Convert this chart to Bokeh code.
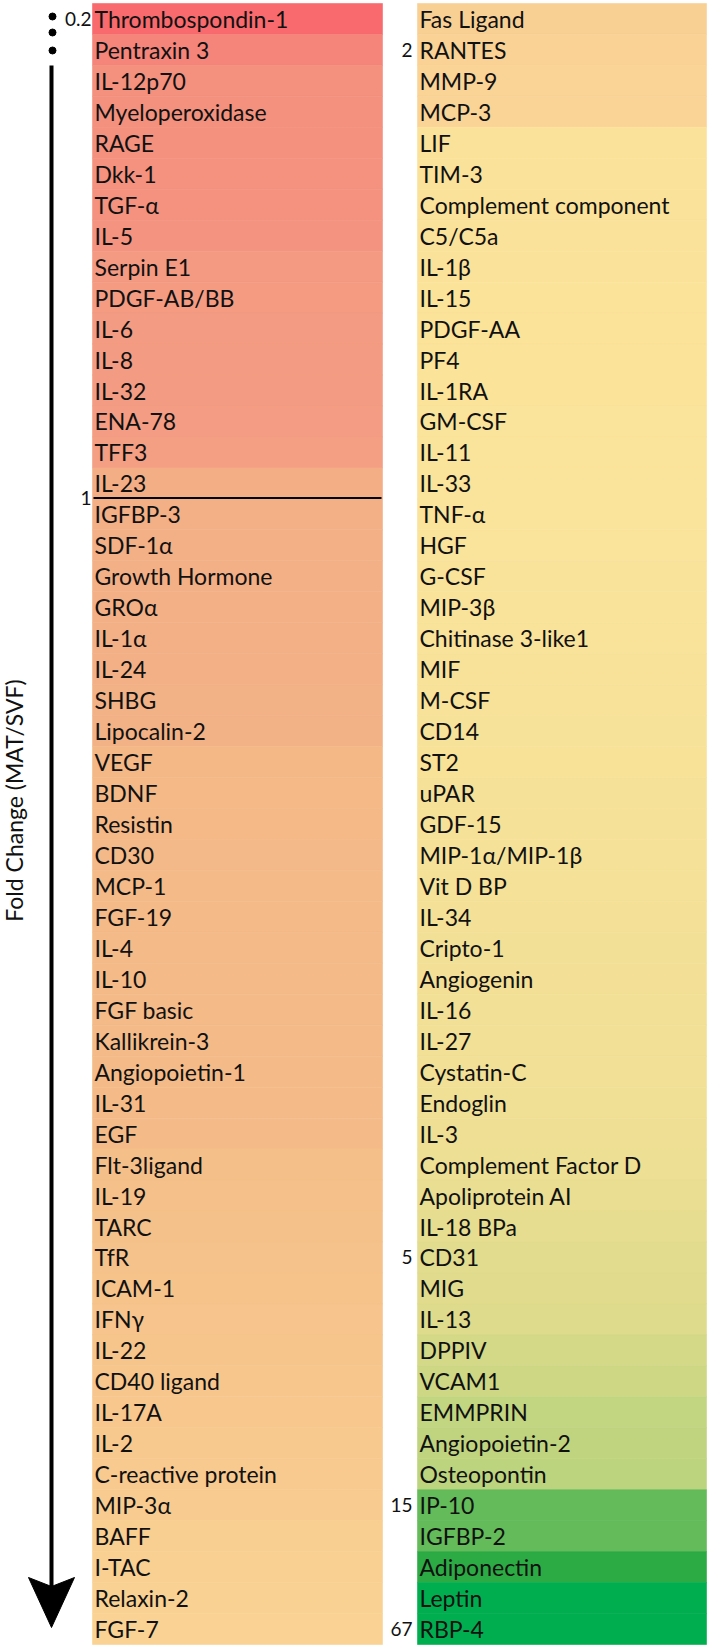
import math
from bokeh.plotting import figure
from bokeh.models import Range1d, ColumnDataSource
from bokeh.embed import file_html
from bokeh.resources import INLINE
from bokeh.core.properties import value

# ---------------- data ----------------
left_names = ["Thrombospondin-1", "Pentraxin 3", "IL-12p70", "Myeloperoxidase", "RAGE", "Dkk-1",
              "TGF-α", "IL-5", "Serpin E1", "PDGF-AB/BB", "IL-6", "IL-8", "IL-32", "ENA-78", "TFF3",
              "IL-23", "IGFBP-3", "SDF-1α", "Growth Hormone", "GROα", "IL-1α", "IL-24", "SHBG",
              "Lipocalin-2", "VEGF", "BDNF", "Resistin", "CD30", "MCP-1", "FGF-19", "IL-4", "IL-10",
              "FGF basic", "Kallikrein-3", "Angiopoietin-1", "IL-31", "EGF", "Flt-3ligand", "IL-19",
              "TARC", "TfR", "ICAM-1", "IFNγ", "IL-22", "CD40 ligand", "IL-17A", "IL-2",
              "C-reactive protein", "MIP-3α", "BAFF", "I-TAC", "Relaxin-2", "FGF-7"]
right_names = ["Fas Ligand", "RANTES", "MMP-9", "MCP-3", "LIF", "TIM-3", "Complement component",
               "C5/C5a", "IL-1β", "IL-15", "PDGF-AA", "PF4", "IL-1RA", "GM-CSF", "IL-11", "IL-33",
               "TNF-α", "HGF", "G-CSF", "MIP-3β", "Chitinase 3-like1", "MIF", "M-CSF", "CD14", "ST2",
               "uPAR", "GDF-15", "MIP-1α/MIP-1β", "Vit D BP", "IL-34", "Cripto-1", "Angiogenin",
               "IL-16", "IL-27", "Cystatin-C", "Endoglin", "IL-3", "Complement Factor D",
               "Apoliprotein AI", "IL-18 BPa", "CD31", "MIG", "IL-13", "DPPIV", "VCAM1", "EMMPRIN",
               "Angiopoietin-2", "Osteopontin", "IP-10", "IGFBP-2", "Adiponectin", "Leptin", "RBP-4"]

left_colors = ["#F86A6D", "#F5847A", "#F4907E", "#F4917E", "#F4917E", "#F4927F", "#F4927F", "#F4937F",
               "#F49A82", "#F49B82", "#F49B83", "#F49C83", "#F49C83", "#F49D84", "#F49E84",
               "#F4AE86", "#F3AF86", "#F3AF86", "#F3B086", "#F3B086", "#F3B086", "#F3B086", "#F3B186",
               "#F3B186", "#F4B887", "#F4B987", "#F4B987", "#F4B988", "#F4BA88", "#F4BA88", "#F4BA88",
               "#F4BA88", "#F4BA88", "#F4BB88", "#F4BB88", "#F4BB88", "#F4BB88",
               "#F5BF89", "#F5C08A", "#F5C18A", "#F6C28B", "#F6C38B", "#F6C48C", "#F6C58C",
               "#F7C68D", "#F7C78E", "#F7C98E", "#F8CA8F", "#F8CC90", "#F8CE91", "#F9D092",
               "#F9D193", "#FAD394"]
right_colors = ["#F9D094", "#FAD295", "#FAD396", "#FAD496", "#FBE29A", "#FBE29A", "#FBE29A",
                "#FBE29A", "#FBE29A", "#FBE39A", "#FBE39A", "#FBE39A", "#FBE39A", "#FAE39A",
                "#FAE39A", "#FAE39A", "#FAE39A", "#FAE39A", "#F9E39A", "#F9E39A", "#F9E299",
                "#F8E299", "#F8E299", "#F7E299", "#F7E298", "#F6E198", "#F6E198", "#F5E198",
                "#F5E197", "#F4E197", "#F3E097", "#F3E096", "#F2E096", "#F1E096", "#F1E095",
                "#F0E095", "#EFDF94", "#EDDF94", "#E9DE91", "#E6DD90", "#E2DC8E", "#E0DB8D",
                "#DEDB8C", "#D4D987", "#CDD784", "#C2D580", "#C0D47F", "#BDD47E", "#63BB5A",
                "#63BB5A", "#2CAB45", "#00AE50", "#00AE50"]

# fold-change tick values, attached to the protein row they sit next to
tick_labels = ["0.2", "1", "2", "5", "15", "67"]
tick_rows = ["Thrombospondin-1", "IL-23", "RANTES", "CD31", "IP-10", "RBP-4"]
tick_side = ["label", "below", "label", "label", "label", "label"]

axis_title = "Fold Change (MAT/SVF)"

# ---------------- layout ----------------
W, H = 709, 1648
N = len(left_names)
TOP, BOTTOM = 3.0, 1644.0
RH = (BOTTOM - TOP) / N
LX0, LX1 = 92, 382
RX0, RX1 = 417, 706
FONT = value("Lato")

p = figure(width=W, height=H, x_range=Range1d(0, W), y_range=Range1d(H, 0),
           output_backend="svg", toolbar_location=None, min_border=0, title=None,
           x_axis_type=None, y_axis_type=None)
p.grid.visible = False
p.outline_line_color = None
p.background_fill_color = "white"
p.border_fill_color = "white"

rows = list(range(N))
tops = [TOP + i * RH for i in rows]
bots = [TOP + (i + 1) * RH for i in rows]
mids = [TOP + (i + 0.5) * RH for i in rows]

ls = ColumnDataSource(dict(top=tops, bottom=bots, mid=mids, color=left_colors, name=left_names))
rs = ColumnDataSource(dict(top=tops, bottom=bots, mid=mids, color=right_colors, name=right_names))

p.quad(left=LX0, right=LX1, top="top", bottom="bottom", fill_color="color",
       line_color="color", line_width=0.6, source=ls)
p.quad(left=RX0, right=RX1, top="top", bottom="bottom", fill_color="color",
       line_color="color", line_width=0.6, source=rs)

LABEL_SIZE = "23px"
p.text(x=LX0 + 2, y="mid", text="name", source=ls, text_font=FONT,
       text_font_size=LABEL_SIZE, text_baseline="middle", text_color="#111111")
p.text(x=RX0 + 2, y="mid", text="name", source=rs, text_font=FONT,
       text_font_size=LABEL_SIZE, text_baseline="middle", text_color="#111111")

# divider line at fold change = 1
i1 = left_names.index(tick_rows[1])
yline = TOP + (i1 + 1) * RH - 1
p.segment(x0=LX0 + 1, x1=LX1 - 1, y0=yline, y1=yline, line_color="black", line_width=2)

# tick numbers
for lab, row, side in zip(tick_labels, tick_rows, tick_side):
    if row in left_names:
        i = left_names.index(row)
        x = LX0 - 1
    else:
        i = right_names.index(row)
        x = RX0 - 5
    if side == "below":
        y = yline
    else:
        y = TOP + (i + 0.5) * RH
    p.text(x=[x], y=[y], text=[lab], text_font=FONT, text_font_size="19px",
           text_align="right", text_baseline="middle", text_color="#111111")

# arrow with dots
p.scatter(x=[52, 52, 52], y=[16, 32, 50], size=7, color="black")
p.segment(x0=51, y0=65, x1=51, y1=1588, line_color="black", line_width=4)
p.patch(x=[28, 51, 74, 51], y=[1577, 1586, 1577, 1627], fill_color="black", line_color="black")

p.text(x=[13], y=[800], text=[axis_title], angle=math.pi / 2, text_font=FONT,
       text_font_size="23px", text_align="center", text_baseline="middle", text_color="#111111")

open("out.html", "w").write(file_html(p, INLINE, "chart"))
